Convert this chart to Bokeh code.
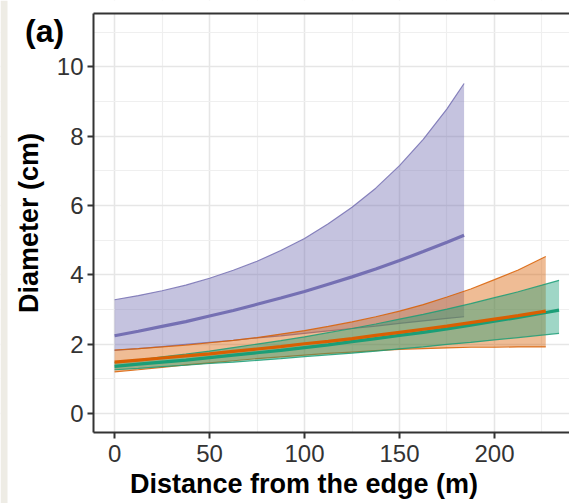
from bokeh.plotting import figure
from bokeh.models import (LinearAxis, SingleIntervalTicker, FixedTicker, Label,
                          Range1d, BoxAnnotation)
from bokeh.embed import file_html
from bokeh.resources import INLINE

# ---- data ----
purple_x = [0, 12.5, 25, 37.5, 50, 62.5, 75, 87.5, 100, 112.5, 125, 137.5, 150, 162.5, 175, 184]
purple_mean = [2.24, 2.37, 2.51, 2.65, 2.81, 2.97, 3.15, 3.33, 3.52, 3.73, 3.94, 4.17, 4.41, 4.67, 4.94, 5.14]
purple_upper = [3.28, 3.40, 3.54, 3.70, 3.90, 4.13, 4.39, 4.70, 5.05, 5.47, 5.95, 6.50, 7.15, 7.91, 8.79, 9.52]
purple_lower = [1.82, 1.87, 1.93, 1.99, 2.05, 2.11, 2.18, 2.24, 2.31, 2.38, 2.45, 2.52, 2.60, 2.67, 2.74, 2.79]

orange_x = [0, 12.5, 25, 37.5, 50, 62.5, 75, 87.5, 100, 112.5, 125, 137.5, 150, 162.5, 175, 187.5, 200, 212.5, 227]
orange_mean = [1.48, 1.54, 1.60, 1.66, 1.72, 1.79, 1.86, 1.93, 2.01, 2.08, 2.16, 2.25, 2.34, 2.43, 2.52, 2.62, 2.72, 2.82, 2.95]
orange_upper = [1.83, 1.87, 1.92, 1.97, 2.04, 2.11, 2.19, 2.29, 2.39, 2.51, 2.64, 2.79, 2.95, 3.14, 3.36, 3.59, 3.86, 4.14, 4.53]
orange_lower = [1.20, 1.26, 1.33, 1.40, 1.46, 1.52, 1.58, 1.63, 1.68, 1.73, 1.77, 1.81, 1.85, 1.87, 1.89, 1.91, 1.91, 1.92, 1.92]

green_x = [0, 12.5, 25, 37.5, 50, 62.5, 75, 87.5, 100, 112.5, 125, 137.5, 150, 162.5, 175, 187.5, 200, 212.5, 225, 234]
green_mean = [1.36, 1.42, 1.48, 1.54, 1.61, 1.68, 1.75, 1.82, 1.90, 1.98, 2.07, 2.16, 2.25, 2.34, 2.44, 2.55, 2.66, 2.77, 2.89, 2.98]
green_upper = [1.47, 1.54, 1.63, 1.71, 1.80, 1.90, 2.00, 2.10, 2.21, 2.33, 2.45, 2.58, 2.72, 2.86, 3.01, 3.17, 3.34, 3.51, 3.70, 3.84]
green_lower = [1.26, 1.30, 1.35, 1.39, 1.44, 1.48, 1.53, 1.58, 1.64, 1.69, 1.74, 1.80, 1.86, 1.92, 1.99, 2.05, 2.12, 2.19, 2.26, 2.31]

x_title = "Distance from the edge (m)"
y_title = "Diameter (cm)"
panel_tag = "(a)"

PURPLE, ORANGE, GREEN = "#7570b3", "#d95f02", "#1b9e77"
FONT = "Liberation Sans"
AXIS_C = "#333333"

# panel limits (data units)
X0, X1 = -11.1, 239.5
Y0, Y1 = -0.55, 11.54

# frame covers the whole figure; panel occupies px 93..569 x 13..432
p = figure(width=569, height=503, output_backend="svg", toolbar_location=None,
           x_range=Range1d(-60.06, X1), y_range=Range1d(-2.599, 11.915),
           min_border=0, background_fill_color="white", border_fill_color="white")
p.outline_line_color = None

# axes placed at panel edges
p.xaxis.ticker = SingleIntervalTicker(interval=50, num_minor_ticks=2)
p.yaxis.ticker = SingleIntervalTicker(interval=2, num_minor_ticks=2)
p.xaxis.fixed_location = Y0
p.xaxis.bounds = (X0, X1)
p.yaxis.fixed_location = X0
p.yaxis.bounds = (Y0, Y1)
for ax in (p.xaxis[0], p.yaxis[0]):
    ax.axis_line_color = AXIS_C
    ax.axis_line_width = 2
    ax.major_tick_line_color = AXIS_C
    ax.major_tick_line_width = 2
    ax.major_tick_out = 6
    ax.major_tick_in = 0
    ax.minor_tick_line_color = None
    ax.major_label_text_font = FONT
    ax.major_label_text_font_size = "24px"
    ax.major_label_text_color = AXIS_C
p.xaxis.major_label_standoff = 7
p.yaxis.major_label_standoff = 4
p.yaxis.axis_label = y_title
p.yaxis.axis_label_text_font = FONT
p.yaxis.axis_label_text_font_size = "27px"
p.yaxis.axis_label_text_font_style = "bold"
p.yaxis.axis_label_text_color = "black"
p.yaxis.axis_label_standoff = 10

top = LinearAxis(ticker=FixedTicker(ticks=[]), major_label_text_font_size="0px",
                 axis_line_color=AXIS_C, axis_line_width=2, fixed_location=Y1,
                 bounds=(X0, X1), major_tick_line_color=None, minor_tick_line_color=None)
p.add_layout(top, "above")

# grid
for g in (p.xgrid[0], p.ygrid[0]):
    g.grid_line_color = "#e6e6e6"
    g.grid_line_width = 1.5
    g.minor_grid_line_color = "#efefef"
    g.minor_grid_line_width = 1.2

# white masks outside the panel (hide grid lines there)
for kw in (dict(right=X0), dict(top=Y0), dict(bottom=Y1)):
    p.add_layout(BoxAnnotation(fill_color="white", fill_alpha=1.0, line_color=None,
                               level="glyph", **kw))
# page strip at the far left
p.add_layout(BoxAnnotation(right=7, right_units="screen", fill_color="#eeece5",
                           fill_alpha=1.0, line_color=None, level="glyph"))

# ribbons
for xs, lo, hi, c in ((purple_x, purple_lower, purple_upper, PURPLE),
                      (orange_x, orange_lower, orange_upper, ORANGE),
                      (green_x, green_lower, green_upper, GREEN)):
    p.varea(x=xs, y1=lo, y2=hi, fill_color=c, fill_alpha=0.42)
    p.line(xs, lo, line_color=c, line_width=1.2, line_alpha=0.85)
    p.line(xs, hi, line_color=c, line_width=1.2, line_alpha=0.85)

for xs, m, c in ((purple_x, purple_mean, PURPLE),
                 (green_x, green_mean, GREEN),
                 (orange_x, orange_mean, ORANGE)):
    p.line(xs, m, line_color=c, line_width=3.2)

# titles
p.add_layout(Label(x=99.7, y=-2.04, text=x_title, text_align="center",
                   text_baseline="alphabetic", text_font=FONT, text_font_size="27px",
                   text_font_style="bold", text_color="black"))
p.add_layout(Label(x=-47.1, y=11.03, text=panel_tag, text_align="left",
                   text_baseline="alphabetic", text_font=FONT, text_font_size="32px",
                   text_font_style="bold", text_color="black"))

open("out.html", "w").write(file_html(p, INLINE))
